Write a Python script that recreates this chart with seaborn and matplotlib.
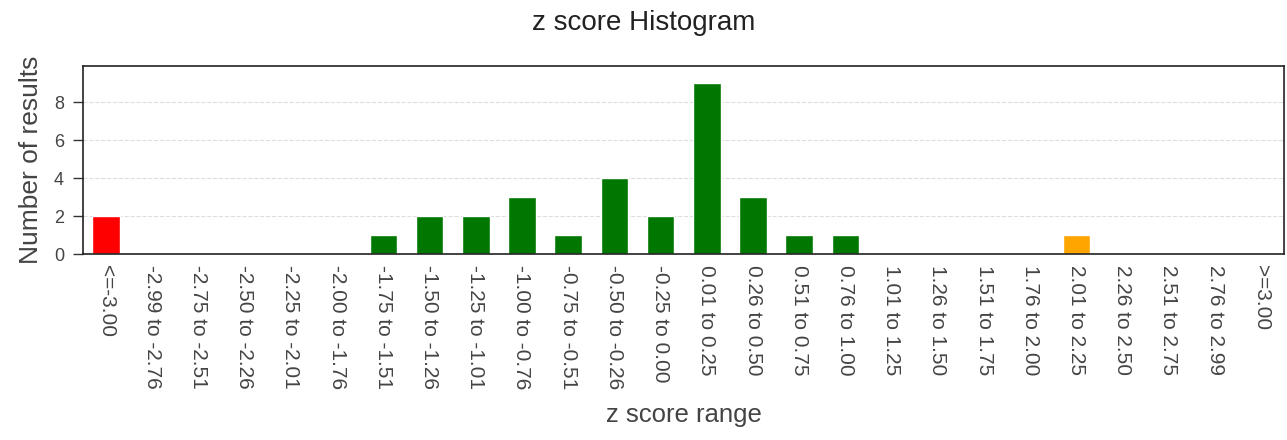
import matplotlib
matplotlib.use("Agg")
import matplotlib.pyplot as plt
import seaborn as sns
import pandas as pd

# z score bins as shown on the x axis
ranges = [
    "<=-3.00", "-2.99 to -2.76", "-2.75 to -2.51", "-2.50 to -2.26",
    "-2.25 to -2.01", "-2.00 to -1.76", "-1.75 to -1.51", "-1.50 to -1.26",
    "-1.25 to -1.01", "-1.00 to -0.76", "-0.75 to -0.51", "-0.50 to -0.26",
    "-0.25 to 0.00", "0.01 to 0.25", "0.26 to 0.50", "0.51 to 0.75",
    "0.76 to 1.00", "1.01 to 1.25", "1.26 to 1.50", "1.51 to 1.75",
    "1.76 to 2.00", "2.01 to 2.25", "2.26 to 2.50", "2.51 to 2.75",
    "2.76 to 2.99", ">=3.00",
]
counts = [2, 0, 0, 0, 0, 0, 1, 2, 2, 3, 1, 4, 2, 9, 3, 1, 1, 0, 0, 0, 0, 1, 0, 0, 0, 0]
bar_colors = (["#ff0000"] + ["#ffa500"] * 5 + ["#007700"] * 11
              + ["#ffa500"] * 8 + ["#ff0000"])

df = pd.DataFrame({"range": ranges, "count": counts})

sns.set_style("white")
plt.rcParams["font.family"] = ["Liberation Sans", "DejaVu Sans"]

fig = plt.figure(figsize=(12.87, 4.4), dpi=100)
ax = fig.add_axes([0.0645, 0.4227, 0.9335, 0.4273])

sns.barplot(data=df, x="range", y="count", hue="range",
            palette=dict(zip(ranges, bar_colors)), legend=False,
            width=0.6, saturation=1, ax=ax)

ax.set_xlim(-0.5, len(ranges) - 0.5)
ax.set_ylim(0, 9.9)
ax.set_yticks([0, 2, 4, 6, 8])
ax.yaxis.grid(True, color="#dddddd", linestyle="--", linewidth=0.8)
ax.set_axisbelow(True)

for s in ax.spines.values():
    s.set_color("#222222")
    s.set_linewidth(1.2)

ax.tick_params(axis="y", direction="out", length=7.2, width=1, color="#333333",
               labelsize=13, labelcolor="#444444", left=True, pad=6.5)
ax.tick_params(axis="x", length=0, labelsize=15, labelcolor="#444444", pad=8)
plt.setp(ax.get_xticklabels(), rotation=270, ha="center", va="top")

ax.set_xlabel("z score range", fontsize=18.5, color="#444444", labelpad=10)
ax.set_ylabel("Number of results", fontsize=19, color="#444444", labelpad=8)
fig.suptitle("z score Histogram", fontsize=20, color="#222222", y=0.978)

fig.savefig("out.png", dpi=100)
